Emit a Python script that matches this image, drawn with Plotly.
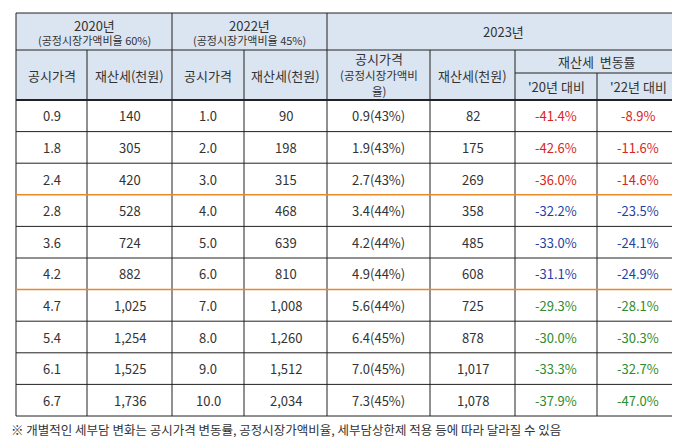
import plotly.graph_objects as go

p20 = ["0.9","1.8","2.4","2.8","3.6","4.2","4.7","5.4","6.1","6.7"]
t20 = ["140","305","420","528","724","882","1,025","1,254","1,525","1,736"]
p22 = ["1.0","2.0","3.0","4.0","5.0","6.0","7.0","8.0","9.0","10.0"]
t22 = ["90","198","315","468","639","810","1,008","1,260","1,512","2,034"]
p23 = ["0.9(43%)","1.9(43%)","2.7(43%)","3.4(44%)","4.2(44%)","4.9(44%)","5.6(44%)","6.4(45%)","7.0(45%)","7.3(45%)"]
t23 = ["82","175","269","358","485","608","725","878","1,017","1,078"]
c20 = ["-41.4%","-42.6%","-36.0%","-32.2%","-33.0%","-31.1%","-29.3%","-30.0%","-33.3%","-37.9%"]
c22 = ["-8.9%","-11.6%","-14.6%","-23.5%","-24.1%","-24.9%","-28.1%","-30.3%","-32.7%","-47.0%"]
footnote = "※ 개별적인 세부담 변화는 공시가격 변동률, 공정시장가액비율, 세부담상한제 적용 등에 따라 달라질 수 있음"

xs = [8, 79, 164, 236, 319, 422, 507, 589, 671]
top, h1, hsub, hb = 5, 42, 65, 92
rh = (408 - hb) / 10
grp_col = ["#d7261e"]*3 + ["#1f3fa6"]*3 + ["#2e8b2e"]*4
F = "Noto Sans CJK KR"
shapes, ann = [], []
def line(x0,y0,x1,y1,c="#222",w=1):
    shapes.append(dict(type="line",x0=x0,y0=y0,x1=x1,y1=y1,xref="x",yref="y",line=dict(color=c,width=w)))
def txt(x,y,t,s=13,c="#333"):
    ann.append(dict(x=x,y=y,text=t,showarrow=False,xref="x",yref="y",font=dict(family=F,size=s,color=c)))

shapes.append(dict(type="rect",x0=xs[0],y0=top,x1=xs[-1],y1=hb,xref="x",yref="y",fillcolor="#dbe5f1",line=dict(width=0),layer="below"))
line(xs[0],top,xs[-1],top); line(xs[0],h1,xs[-1],h1); line(xs[6],hsub,xs[-1],hsub)
line(xs[0],hb,xs[-1],hb,w=2)
for i,x in enumerate(xs):
    y0 = top if i in (0,2,4,8) else (hsub if i==7 else h1)
    line(x,y0,x,408)
for r in range(1,10):
    y = hb + r*rh
    orange = r in (3,6)
    line(xs[0],y,xs[-1],y,c="#e8892b" if orange else "#222",w=1.5 if orange else 1)
line(xs[0],408,xs[-1],408)

txt((xs[0]+xs[2])/2,17,"2020년",13); txt((xs[0]+xs[2])/2,32,"(공정시장가액비율 60%)",11)
txt((xs[2]+xs[4])/2,17,"2022년",13); txt((xs[2]+xs[4])/2,32,"(공정시장가액비율 45%)",11)
txt((xs[4]+xs[8])/2,23,"2023년",13)
for i,t in [(0,"공시가격"),(1,"재산세(천원)"),(2,"공시가격"),(3,"재산세(천원)"),(5,"재산세(천원)")]:
    txt((xs[i]+xs[i+1])/2,(h1+hb)/2,t,13)
txt((xs[4]+xs[5])/2,50,"공시가격",13)
txt((xs[4]+xs[5])/2,67,"(공정시장가액비",11.5)
txt((xs[4]+xs[5])/2,83,"율)",11.5)
txt((xs[6]+xs[8])/2,(h1+hsub)/2,"재산세  변동률",13)
txt((xs[6]+xs[7])/2,(hsub+hb)/2,"'20년 대비",13)
txt((xs[7]+xs[8])/2,(hsub+hb)/2,"'22년 대비",13)

cols = [p20,t20,p22,t22,p23,t23,c20,c22]
for ci,col in enumerate(cols):
    for r,v in enumerate(col):
        c = grp_col[r] if ci>=6 else "#333"
        txt((xs[ci]+xs[ci+1])/2, hb+(r+0.5)*rh, v, 13, c)
ann.append(dict(x=1,y=421,text=footnote,showarrow=False,xanchor="left",xref="x",yref="y",font=dict(family=F,size=12.5,color="#333")))

fig = go.Figure()
fig.update_layout(width=680,height=437,margin=dict(l=0,r=0,t=0,b=0),plot_bgcolor="white",paper_bgcolor="white",
    xaxis=dict(range=[0,680],visible=False,fixedrange=True),yaxis=dict(range=[437,0],visible=False,fixedrange=True),
    shapes=shapes,annotations=ann,showlegend=False)
fig.write_html("out.html")
